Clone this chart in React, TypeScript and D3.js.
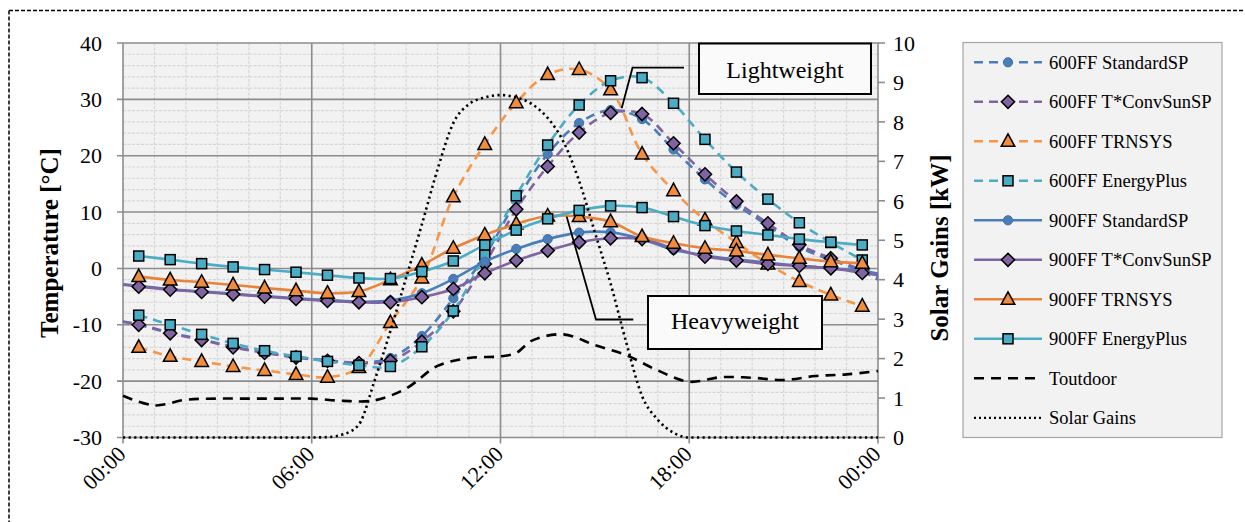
import React from 'react';
import * as d3 from 'd3';

// ---------- DATA ----------
const markerTimes = [0.5, 1.5, 2.5, 3.5, 4.5, 5.5, 6.5, 7.5, 8.5, 9.5, 10.5, 11.5, 12.5, 13.5, 14.5, 15.5, 16.5, 17.5, 18.5, 19.5, 20.5, 21.5, 22.5, 23.5];

const std600 = [-9.9, -11.4, -12.6, -13.9, -14.9, -15.7, -16.3, -16.7, -15.9, -12.0, -5.3, 2.2, 12.0, 20.3, 25.8, 28.1, 26.5, 21.1, 15.8, 11.3, 7.6, 3.8, 1.5, -0.5];
const tconv600 = [-10.0, -11.5, -12.7, -14.0, -15.0, -15.8, -16.4, -16.8, -16.4, -13.0, -7.6, 0.8, 10.5, 18.1, 24.1, 27.6, 27.4, 22.2, 16.7, 11.9, 8.0, 4.2, 1.8, -0.3];
const trnsys600 = [-14.0, -15.6, -16.5, -17.4, -18.1, -18.8, -19.3, -17.6, -9.6, -1.7, 12.7, 22.0, 29.4, 34.4, 35.3, 31.7, 20.3, 13.8, 8.6, 4.6, 0.8, -2.3, -4.7, -6.7];
const eplus600 = [-8.3, -10.0, -11.7, -13.3, -14.6, -15.6, -16.5, -17.2, -17.4, -13.9, -7.55, 2.4, 12.9, 21.9, 29.0, 33.3, 33.85, 29.3, 22.9, 17.1, 12.3, 8.1, 4.6, 1.5];
const std900 = [-3.1, -3.7, -4.1, -4.5, -4.9, -5.3, -5.6, -5.9, -5.7, -4.4, -1.86, 1.2, 3.46, 5.2, 6.36, 6.4, 5.2, 3.3, 2.3, 1.6, 1.0, 0.5, 0.0, -0.4];
const tconv900 = [-3.23, -3.76, -4.17, -4.58, -5.0, -5.41, -5.77, -6.0, -6.0, -5.1, -3.64, -0.86, 1.4, 3.16, 4.65, 5.35, 5.2, 3.58, 2.1, 1.4, 0.8, 0.44, 0.03, -0.8];
const trnsys900 = [-1.45, -2.04, -2.45, -2.93, -3.46, -3.94, -4.4, -4.1, -2.0, 0.6, 3.58, 5.94, 7.9, 9.3, 9.2, 8.3, 5.65, 4.47, 3.58, 3.1, 2.4, 1.8, 1.2, 0.9];
const eplus900 = [2.2, 1.56, 0.85, 0.27, -0.2, -0.67, -1.2, -1.7, -1.8, -0.56, 1.33, 4.17, 6.8, 8.8, 10.3, 11.1, 10.8, 9.2, 7.6, 6.65, 5.94, 5.2, 4.65, 4.17];

// line end values (00:00 and 24:00) for the SP series
const std600Ends = [-9.5, -2.0];
const tconv600Ends = [-9.4, -1.6];
const std900Ends = [-2.8, -0.9];
const tconv900Ends = [-2.9, -1.2];

const outdoorTimes = [0, 1, 2, 3, 4, 5, 6, 7, 8, 9, 10, 11, 12, 12.5, 13, 14, 15, 16, 17, 18, 19, 20, 21, 22, 23, 24];
const outdoorTemp = [-22.6, -24.3, -23.3, -23.1, -23.1, -23.1, -23.1, -23.5, -23.4, -21.3, -17.3, -15.9, -15.6, -15.0, -12.8, -11.7, -13.6, -15.4, -18.1, -20.1, -19.3, -19.4, -19.8, -19.1, -18.8, -18.2];

const solarTimes = [0, 1, 2, 3, 4, 5, 6, 6.5, 7, 7.5, 8, 8.5, 9, 9.5, 10, 10.5, 11, 11.5, 12, 12.5, 13, 13.5, 14, 14.5, 15, 15.5, 16, 16.5, 17, 17.5, 18, 19, 20, 21, 22, 23, 24];
const solarKW = [0, 0, 0, 0, 0, 0, 0, 0.01, 0.08, 0.33, 1.45, 2.7, 4.05, 5.4, 6.8, 7.97, 8.45, 8.62, 8.68, 8.62, 8.45, 8.1, 7.5, 6.5, 5.2, 3.9, 2.4, 1.05, 0.45, 0.12, 0, 0, 0, 0, 0, 0, 0];

const xTickHours = [0, 6, 12, 18, 24];
const xTickLabels = ['00:00', '06:00', '12:00', '18:00', '00:00'];
const tempTicks = [-30, -20, -10, 0, 10, 20, 30, 40];
const kwTicks = [0, 1, 2, 3, 4, 5, 6, 7, 8, 9, 10];

const legendNames = ['600FF StandardSP', '600FF T*ConvSunSP', '600FF TRNSYS', '600FF EnergyPlus', '900FF StandardSP', '900FF T*ConvSunSP', '900FF TRNSYS', '900FF EnergyPlus', 'Toutdoor', 'Solar Gains'];

// ---------- STYLE ----------
const BLUE = '#4a7ebb';
const PURPLE = '#8064a2';
const ORANGE_D = '#f79646';
const ORANGE_S = '#e8843a';
const ORANGE_F = '#f08c3c';
const CYAN = '#4bacc6';
const FONT = '"Liberation Serif", "Times New Roman", serif';

type Series = {
  name: string;
  values: number[];
  ends?: number[];
  color: string;
  dash: string | null;
  marker: 'circle' | 'diamond' | 'triangle' | 'square';
  fill: string;
};

const series: Series[] = [
  { name: legendNames[0], values: std600, ends: std600Ends, color: BLUE, dash: '9 6', marker: 'circle', fill: BLUE },
  { name: legendNames[1], values: tconv600, ends: tconv600Ends, color: PURPLE, dash: '9 6', marker: 'diamond', fill: PURPLE },
  { name: legendNames[2], values: trnsys600, color: ORANGE_D, dash: '9 6', marker: 'triangle', fill: ORANGE_F },
  { name: legendNames[3], values: eplus600, color: CYAN, dash: '9 6', marker: 'square', fill: CYAN },
  { name: legendNames[4], values: std900, ends: std900Ends, color: BLUE, dash: null, marker: 'circle', fill: BLUE },
  { name: legendNames[5], values: tconv900, ends: tconv900Ends, color: PURPLE, dash: null, marker: 'diamond', fill: PURPLE },
  { name: legendNames[6], values: trnsys900, color: ORANGE_S, dash: null, marker: 'triangle', fill: ORANGE_F },
  { name: legendNames[7], values: eplus900, color: CYAN, dash: null, marker: 'square', fill: CYAN },
];

function Marker({ kind, fill, cx, cy }: { kind: string; fill: string; cx: number; cy: number }) {
  const t = `translate(${cx},${cy})`;
  if (kind === 'circle') return <circle transform={t} r={4.6} fill={fill} stroke="#3f6ea6" strokeWidth={1} />;
  if (kind === 'diamond') return <path transform={t} d="M0,-6.6L6.6,0L0,6.6L-6.6,0Z" fill={fill} stroke="#000" strokeWidth={1.5} />;
  if (kind === 'triangle') return <path transform={t} d="M0,-7.5L6.8,5L-6.8,5Z" fill={fill} stroke="#000" strokeWidth={1.5} strokeLinejoin="miter" />;
  return <rect transform={t} x={-5} y={-5} width={10} height={10} fill={fill} stroke="#000" strokeWidth={1.5} />;
}

export default function App() {
  const W = 1245, H = 522;
  const L = 123, R = 878, T = 43, B = 437.5;
  const x = d3.scaleLinear().domain([0, 24]).range([L, R]);
  const y = d3.scaleLinear().domain([-30, 40]).range([B, T]);
  const y2 = d3.scaleLinear().domain([0, 10]).range([B, T]);

  const smooth = d3.line<[number, number]>().x(d => x(d[0])).y(d => y(d[1])).curve(d3.curveCatmullRom.alpha(0.5));
  const smooth2 = d3.line<[number, number]>().x(d => x(d[0])).y(d => y2(d[1])).curve(d3.curveMonotoneX);

  const minorX = d3.range(1, 24).filter(h => h % 6 !== 0);
  const minorY = d3.range(-28, 40, 2).filter(v => v % 10 !== 0);

  const seriesLine = (s: Series) => {
    const pts: [number, number][] = markerTimes.map((t, i) => [t, s.values[i]]);
    if (s.ends) {
      pts.unshift([0, s.ends[0]]);
      pts.push([24, s.ends[1]]);
    }
    return smooth(pts) || '';
  };

  const outdoorPath = smooth(outdoorTimes.map((t, i) => [t, outdoorTemp[i]] as [number, number])) || '';
  const solarPath = smooth2(solarTimes.map((t, i) => [t, solarKW[i]] as [number, number])) || '';

  const legX0 = 974, legX1 = 1042, legMid = 1008, legTextX = 1049;
  const legY = (i: number) => 62.3 + i * 39.5;

  return (
    <svg width={W} height={H} style={{ position: 'absolute', left: 0, top: 0, background: '#fff' }} fontFamily={FONT}>
      {/* outer dashed frame */}
      <line x1={9} y1={10.5} x2={W} y2={10.5} stroke="#000" strokeWidth={1.5} strokeDasharray="4 2" />
      <line x1={9} y1={10.5} x2={9} y2={H} stroke="#000" strokeWidth={1.5} strokeDasharray="4 2" />

      {/* plot background */}
      <rect x={L} y={T} width={R - L} height={B - T} fill="#f2f2f2" />

      {/* minor grid */}
      {minorX.map(h => (
        <line key={'mx' + h} x1={x(h)} x2={x(h)} y1={T} y2={B} stroke="#d6d6d6" strokeWidth={1.2} strokeDasharray="3 1.5" />
      ))}
      {minorY.map(v => (
        <line key={'my' + v} x1={L} x2={R} y1={y(v)} y2={y(v)} stroke="#d6d6d6" strokeWidth={1.2} strokeDasharray="3 1.5" />
      ))}
      {/* major grid */}
      {xTickHours.map((h, i) => (
        <line key={'Mx' + i} x1={x(h)} x2={x(h)} y1={T} y2={B + 6} stroke="#8c8c8c" strokeWidth={1.6} />
      ))}
      {tempTicks.map(v => (
        <line key={'My' + v} x1={L - 6} x2={R} y1={y(v)} y2={y(v)} stroke="#8c8c8c" strokeWidth={1.6} />
      ))}
      {/* right axis ticks */}
      {kwTicks.map(k => (
        <line key={'k' + k} x1={R} x2={R + 7} y1={y2(k)} y2={y2(k)} stroke="#8c8c8c" strokeWidth={1.6} />
      ))}

      {/* series */}
      {series.map((s, si) => (
        <g key={'s' + si}>
          <path d={seriesLine(s)} fill="none" stroke={s.color} strokeWidth={2.6} strokeDasharray={s.dash || undefined} />
          {markerTimes.map((t, i) => (
            <Marker key={i} kind={s.marker} fill={s.fill} cx={x(t)} cy={y(s.values[i])} />
          ))}
        </g>
      ))}

      {/* outdoor temperature */}
      <path d={outdoorPath} fill="none" stroke="#000" strokeWidth={2.6} strokeDasharray="10 7" />
      {/* solar gains */}
      <path d={solarPath} fill="none" stroke="#000" strokeWidth={2.6} strokeDasharray="2.2 3.4" />

      {/* annotations */}
      <polyline points="684,67.7 632.5,67.7 621.7,108.3" fill="none" stroke="#000" strokeWidth={1.8} />
      <rect x={699} y={43.5} width={172} height={50.5} fill="#fafafa" stroke="#000" strokeWidth={2} />
      <text x={785} y={77.5} textAnchor="middle" fontSize={24} fill="#000">Lightweight</text>

      <polyline points="633.3,319.5 596,319.5 566.7,216.7" fill="none" stroke="#000" strokeWidth={1.8} />
      <rect x={648} y={296} width={174} height={53} fill="#fafafa" stroke="#000" strokeWidth={2} />
      <text x={735} y={329} textAnchor="middle" fontSize={24} fill="#000">Heavyweight</text>

      {/* left axis labels */}
      {tempTicks.map(v => (
        <text key={'tl' + v} x={102} y={y(v)} dy="0.35em" textAnchor="end" fontSize={22} fill="#000">{v}</text>
      ))}
      {/* right axis labels */}
      {kwTicks.map(k => (
        <text key={'kl' + k} x={893} y={y2(k)} dy="0.35em" textAnchor="start" fontSize={22} fill="#000">{k}</text>
      ))}
      {/* x tick labels */}
      {xTickHours.map((h, i) => (
        <text key={'xl' + i} transform={`translate(${x(h) + 4},${B + 18}) rotate(-45)`} textAnchor="end" fontSize={22} fill="#000">{xTickLabels[i]}</text>
      ))}

      {/* axis titles */}
      <text transform={`translate(58,243) rotate(-90)`} textAnchor="middle" fontSize={25} fontWeight="bold" fill="#000">Temperature [°C]</text>
      <text transform={`translate(948,248) rotate(-90)`} textAnchor="middle" fontSize={25} fontWeight="bold" fill="#000">Solar Gains [kW]</text>

      {/* legend */}
      <rect x={963} y={42.5} width={259} height={395} fill="#f2f2f2" stroke="#a6a6a6" strokeWidth={1.2} />
      {series.map((s, i) => (
        <g key={'lg' + i}>
          <line x1={legX0} x2={legX1} y1={legY(i)} y2={legY(i)} stroke={s.color} strokeWidth={2.6} strokeDasharray={s.dash ? '9 6' : undefined} />
          <Marker kind={s.marker} fill={s.fill} cx={legMid} cy={legY(i)} />
          <text x={legTextX} y={legY(i)} dy="0.35em" fontSize={18.5} fill="#000">{s.name}</text>
        </g>
      ))}
      <line x1={legX0} x2={legX1} y1={legY(8)} y2={legY(8)} stroke="#000" strokeWidth={2.6} strokeDasharray="10 7" />
      <text x={legTextX} y={legY(8)} dy="0.35em" fontSize={18.5} fill="#000">{legendNames[8]}</text>
      <line x1={legX0} x2={legX1} y1={legY(9)} y2={legY(9)} stroke="#000" strokeWidth={2.2} strokeDasharray="2 3" />
      <text x={legTextX} y={legY(9)} dy="0.35em" fontSize={18.5} fill="#000">{legendNames[9]}</text>
    </svg>
  );
}
